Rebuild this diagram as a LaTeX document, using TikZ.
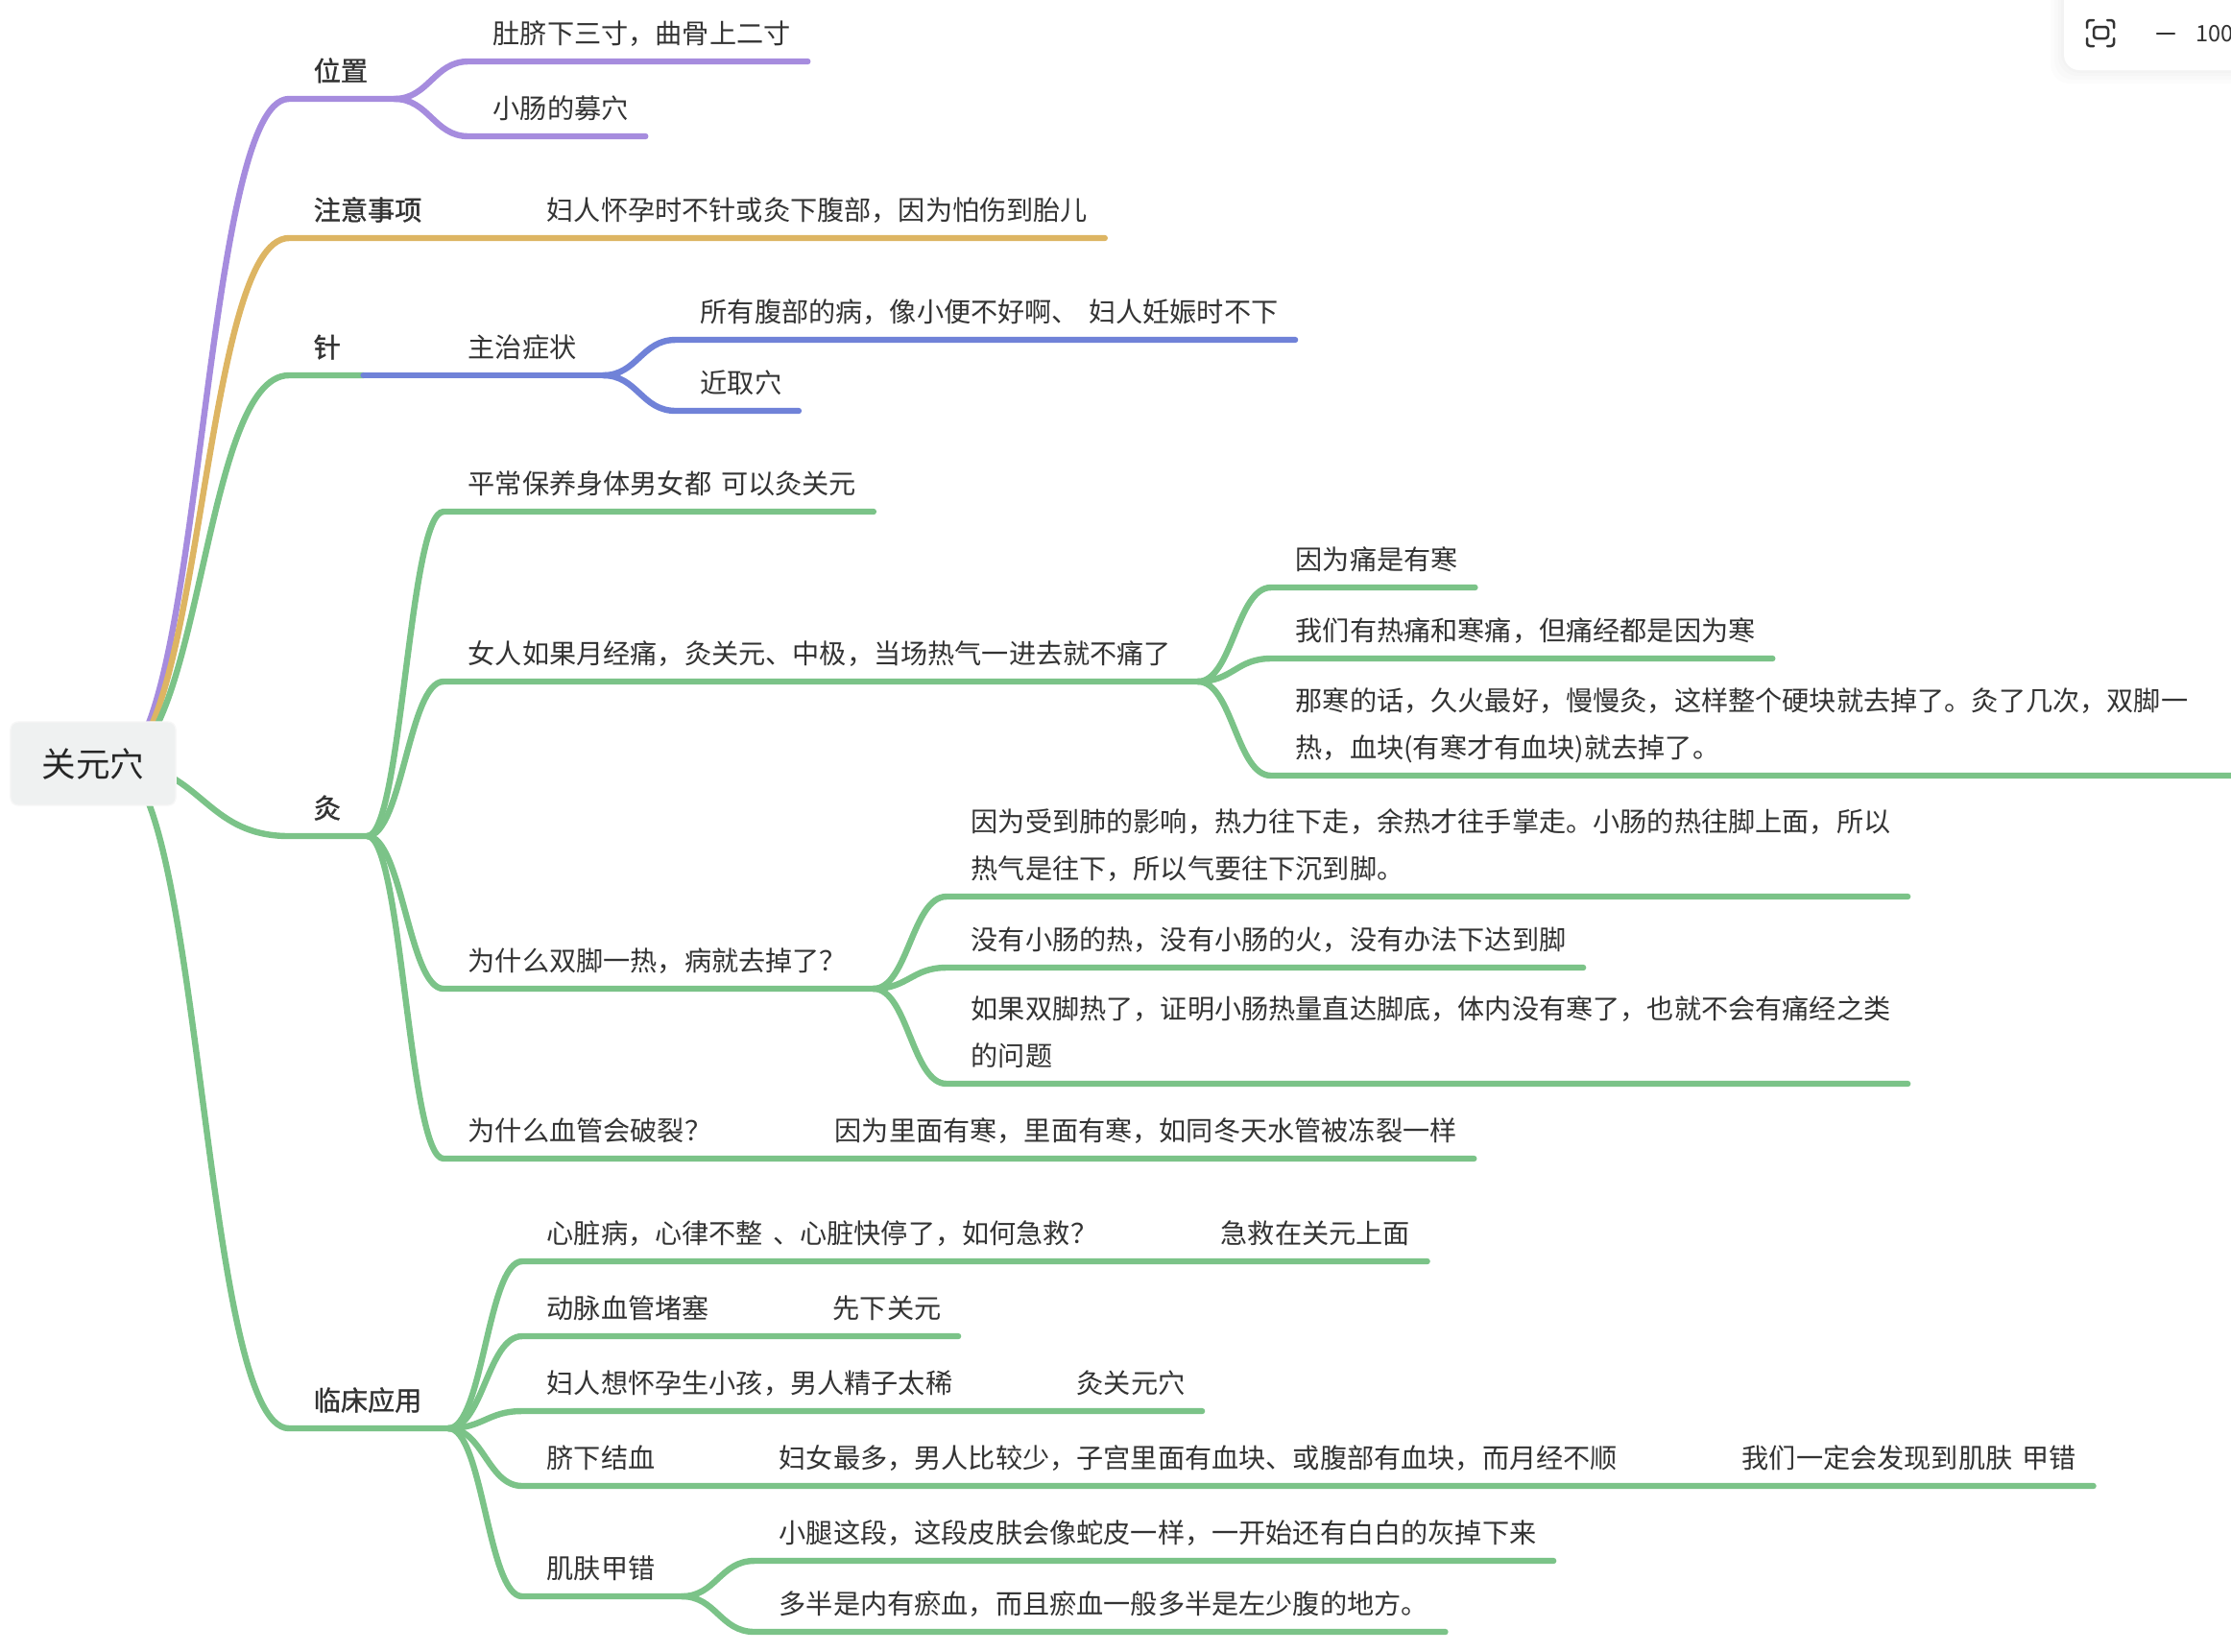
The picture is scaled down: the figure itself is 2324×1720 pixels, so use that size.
\documentclass[tikz,border=0pt]{standalone}
\usepackage{fontspec}
\setmainfont{Noto Sans CJK SC}[WordSpace=1.6,BoldFont=Noto Sans CJK SC,BoldFeatures={FakeBold=1.2}]
\usetikzlibrary{positioning,calc}
\definecolor{lineV}{HTML}{A68CDE}
\definecolor{lineG}{HTML}{DDB563}
\definecolor{lineC}{HTML}{7BC388}
\definecolor{lineB}{HTML}{7082D8}
\definecolor{inkA}{HTML}{333333}
\definecolor{rootfill}{HTML}{EFF1F1}
\tikzset{
  leaf/.style={anchor=south west,inner sep=0pt,text=inkA,font=\fontsize{8.01pt}{9pt}\selectfont,
    text height=.25cm,text depth=.18cm,
    execute at begin node={\hspace*{.25cm}},execute at end node={\hspace*{.17cm}}},
  topic/.style={leaf,font=\fontsize{8.01pt}{9pt}\selectfont\bfseries},
  bough/.style={line width=.064cm,line cap=round,line join=round},
  bend/.style={out=0,in=180,distance=#1},
  rootbox/.style={fill=rootfill,draw=black!3,rounded corners=.08cm,minimum width=1.72cm,minimum height=.87cm,
    inner sep=0pt,text=black!85,font=\fontsize{10.1pt}{12pt}\selectfont},
  uiline/.style={line width=.025cm,black!80,line cap=round,line join=round}
}
\begin{document}
\begin{tikzpicture}[x=.01cm,y=-.01cm]
\useasboundingbox (0,0) rectangle (2324,1720);
% first level
\node[topic] (weizhi) at (301,103) {位置};
\node[topic] (zhuyi) at (301,248) {注意事项};
\node[topic] (zhen) at (301,391) {针};
\node[topic] (jiu) at (301,871) {灸};
\node[topic] (linchuang) at (301,1488) {临床应用};
\coordinate (hub) at (120,795);
% position
\node[leaf] (weiA) at (488,64) {肚脐下三寸，曲骨上二寸};
\node[leaf] (weiB) at (488,142) {小肠的募穴};
% caution
\node[leaf] (zhuyiA) at (544,248) {妇人怀孕时不针或灸下腹部，因为怕伤到胎儿};
% needle
\node[leaf] (zhuzhi) at (462,391) {主治症状};
\node[leaf] (zhuzhiA) at (704,354) {所有腹部的病，像小便不好啊、 妇人妊娠时不下};
\node[leaf] (zhuzhiB) at (704,428) {近取穴};
% moxa
\node[leaf] (jiuA) at (462,533) {平常保养身体男女都 可以灸关元};
\node[leaf] (jiuB) at (462,710) {女人如果月经痛，灸关元、中极，当场热气一进去就不痛了};
\node[leaf] (jiuBa) at (1324,612) {因为痛是有寒};
\node[leaf] (jiuBb) at (1324,686) {我们有热痛和寒痛，但痛经都是因为寒};
\node[leaf] (jiuBcTop) at (1324,759) {那寒的话，久火最好，慢慢灸，这样整个硬块就去掉了。灸了几次，双脚一};
\node[leaf] (jiuBc) at (1324,808) {热，血块(有寒才有血块)就去掉了。};
\coordinate (jiuBcEnd) at (2340,808);
\node[leaf] (jiuC) at (462,1030) {为什么双脚一热，病就去掉了？};
\node[leaf] (jiuCaTop) at (986,885) {因为受到肺的影响，热力往下走，余热才往手掌走。小肠的热往脚上面，所以};
\node[leaf] (jiuCa) at (986,934) {热气是往下，所以气要往下沉到脚。};
\node[leaf] (jiuCb) at (986,1008) {没有小肠的热，没有小肠的火，没有办法下达到脚};
\node[leaf] (jiuCcTop) at (986,1080) {如果双脚热了，证明小肠热量直达脚底，体内没有寒了，也就不会有痛经之类};
\node[leaf] (jiuCc) at (986,1129) {的问题};
\node[leaf] (jiuD) at (462,1207) {为什么血管会破裂？};
\node[leaf] (jiuDa) at (844,1207) {因为里面有寒，里面有寒，如同冬天水管被冻裂一样};
% clinic
\node[leaf] (linA) at (544,1314) {心脏病，心律不整 、心脏快停了，如何急救？};
\node[leaf] (linAa) at (1246,1314) {急救在关元上面};
\node[leaf] (linB) at (544,1392) {动脉血管堵塞};
\node[leaf] (linBa) at (842,1392) {先下关元};
\node[leaf] (linC) at (544,1470) {妇人想怀孕生小孩，男人精子太稀};
\node[leaf] (linCa) at (1096,1470) {灸关元穴};
\node[leaf] (linD) at (544,1548) {脐下结血};
\node[leaf] (linDa) at (786,1548) {妇女最多，男人比较少，子宫里面有血块、或腹部有血块，而月经不顺};
\node[leaf] (linDb) at (1789,1548) {我们一定会发现到肌肤 甲错};
\node[leaf] (linE) at (544,1663) {肌肤甲错};
\node[leaf] (linEa) at (786,1626) {小腿这段，这段皮肤会像蛇皮一样，一开始还有白白的灰掉下来};
\node[leaf] (linEb) at (786,1700) {多半是内有瘀血，而且瘀血一般多半是左少腹的地方。};
% forks
\coordinate (weiF) at ([xshift=.1cm]weizhi.south east);
\coordinate (zhenF) at ([xshift=.06cm]zhen.south east);
\coordinate (zhuzhiF) at ([xshift=.1cm]zhuzhi.south east);
\coordinate (jiuF) at ([xshift=.1cm]jiu.south east);
\coordinate (jiuBF) at ([xshift=.1cm]jiuB.south east);
\coordinate (jiuCF) at ([xshift=.1cm]jiuC.south east);
\coordinate (linF) at ([xshift=.1cm]linchuang.south east);
\coordinate (linEF) at ([xshift=.1cm]linE.south east);
% boughs
\draw[bough,lineV] (hub) to[bend=.9cm] (weizhi.south west) -- (weiF);
\draw[bough,lineV] (weiF) to[bend=.36cm] (weiA.south west) -- (weiA.south east);
\draw[bough,lineV] (weiF) to[bend=.36cm] (weiB.south west) -- (weiB.south east);
\draw[bough,lineG] (hub) to[bend=.9cm] (zhuyi.south west) -- (zhuyiA.south east);
\draw[bough,lineC] (hub) to[bend=.9cm] (zhen.south west) -- (zhenF);
\draw[bough,lineB] (zhenF) -- (zhuzhiF);
\draw[bough,lineB] (zhuzhiF) to[bend=.36cm] (zhuzhiA.south west) -- (zhuzhiA.south east);
\draw[bough,lineB] (zhuzhiF) to[bend=.36cm] (zhuzhiB.south west) -- (zhuzhiB.south east);
\draw[bough,lineC] (hub) to[bend=.9cm] (jiu.south west) -- (jiuF);
\draw[bough,lineC] (hub) to[bend=.9cm] (linchuang.south west) -- (linF);
\draw[bough,lineC] (jiuF) to[bend=.36cm] (jiuA.south west) -- (jiuA.south east);
\draw[bough,lineC] (jiuF) to[bend=.36cm] (jiuB.south west) -- (jiuBF);
\draw[bough,lineC] (jiuF) to[bend=.36cm] (jiuC.south west) -- (jiuCF);
\draw[bough,lineC] (jiuF) to[bend=.36cm] (jiuD.south west) -- (jiuDa.south east);
\draw[bough,lineC] (jiuBF) to[bend=.36cm] (jiuBa.south west) -- (jiuBa.south east);
\draw[bough,lineC] (jiuBF) to[bend=.36cm] (jiuBb.south west) -- (jiuBb.south east);
\draw[bough,lineC] (jiuBF) to[bend=.36cm] (jiuBc.south west) -- (jiuBcEnd);
\draw[bough,lineC] (jiuCF) to[bend=.36cm] (jiuCa.south west) -- (jiuCa.south west -| jiuCaTop.south east);
\draw[bough,lineC] (jiuCF) to[bend=.36cm] (jiuCb.south west) -- (jiuCb.south east);
\draw[bough,lineC] (jiuCF) to[bend=.36cm] (jiuCc.south west) -- (jiuCc.south west -| jiuCcTop.south east);
\draw[bough,lineC] (linF) to[bend=.36cm] (linA.south west) -- (linAa.south east);
\draw[bough,lineC] (linF) to[bend=.36cm] (linB.south west) -- (linBa.south east);
\draw[bough,lineC] (linF) to[bend=.36cm] (linC.south west) -- (linCa.south east);
\draw[bough,lineC] (linF) to[bend=.36cm] (linD.south west) -- (linDb.south east);
\draw[bough,lineC] (linF) to[bend=.36cm] (linE.south west) -- (linEF);
\draw[bough,lineC] (linEF) to[bend=.36cm] (linEa.south west) -- (linEa.south east);
\draw[bough,lineC] (linEF) to[bend=.36cm] (linEb.south west) -- (linEb.south east);
% root on top of the boughs
\node[rootbox] (root) at (97,795.5) {关元穴};
% toolbar corner
\foreach \s in {14,10,6,3} \fill[black,opacity=.012,rounded corners=.2cm] (2150-\s,-40) rectangle (2360,73+\s);
\fill[white,rounded corners=.16cm] (2150,-40) rectangle (2360,73);
\draw[uiline,rounded corners=.03cm] (2174,29) |- (2181,21) (2195,21) -| (2202,29) (2202,40) |- (2195,48) (2181,48) -| (2174,40);
\draw[uiline,rounded corners=.03cm] (2181,28) rectangle (2196,40);
\draw[uiline] (2247,35) -- (2265,35);
\node[anchor=west,inner sep=0pt,text=inkA,font=\fontsize{6.7pt}{8pt}\selectfont] (zoomval) at (2287,35) {100};
\end{tikzpicture}
\end{document}
